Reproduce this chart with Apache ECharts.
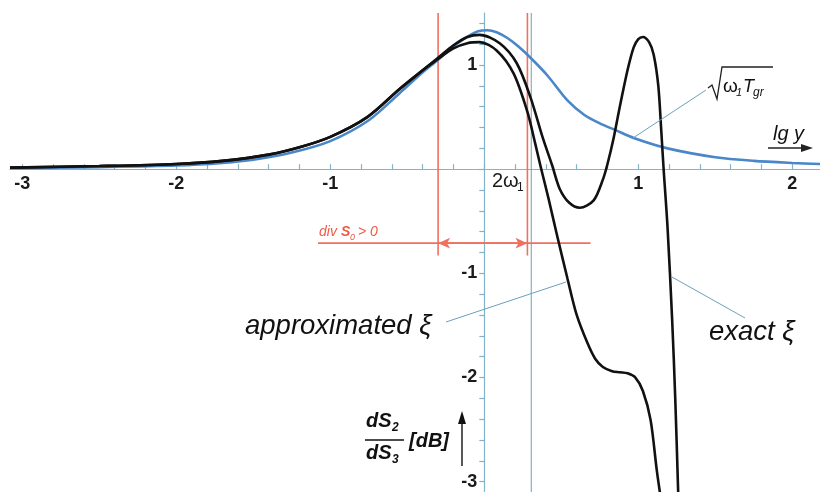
<!DOCTYPE html>
<html><head><meta charset="utf-8">
<script src="https://cdn.jsdelivr.net/npm/echarts@6/dist/echarts.min.js"></script>
<style>html,body{margin:0;padding:0;background:#fff}#c{width:820px;height:492px}</style>
</head><body><div id="c"></div>
<script>
// ---- data ----
const xTicks = [-3.0,-2.8,-2.6,-2.4,-2.2,-2.0,-1.8,-1.6,-1.4,-1.2,-1.0,-0.8,-0.6,-0.4,-0.2,0,0.2,0.4,0.6,0.8,1.0,1.2,1.4,1.6,1.8,2.0];
const xLabels = [-3,-2,-1,1,2];
const yTicks = [-3.0,-2.8,-2.6,-2.4,-2.2,-2.0,-1.8,-1.6,-1.4,-1.2,-1.0,-0.8,-0.6,-0.4,-0.2,0,0.2,0.4,0.6,0.8,1.0,1.2,1.4];
const yLabels = [-3,-2,-1,1];

const blueX = [-3.08,-2.5,-2.0,-1.7,-1.5,-1.25,-1.0,-0.75,-0.55,-0.4,-0.3,-0.2,-0.1,-0.04,0.02,0.08,0.15,0.22,0.3,0.41,0.54,0.65,0.75,0.86,0.97,1.19,1.5,1.75,2.0,2.18];
const blueY = [0.01,0.02,0.035,0.06,0.09,0.16,0.27,0.47,0.73,0.93,1.05,1.18,1.28,1.325,1.335,1.315,1.26,1.18,1.07,0.90,0.66,0.52,0.44,0.37,0.30,0.20,0.115,0.08,0.06,0.05];

const approxX = [-3.08,-2.5,-2.0,-1.7,-1.4,-1.2,-1.0,-0.76,-0.55,-0.4,-0.3,-0.2,-0.11,-0.03,0.08,0.19,0.28,0.33,0.37,0.42,0.47,0.54,0.60,0.67,0.72,0.77,0.83,0.88,0.93,0.98,1.03,1.08,1.12,1.145];
const approxY = [0.015,0.03,0.05,0.08,0.14,0.21,0.31,0.5,0.77,0.95,1.06,1.16,1.21,1.22,1.14,0.92,0.55,0.25,0.0,-0.3,-0.62,-1.05,-1.40,-1.67,-1.82,-1.90,-1.94,-1.95,-1.96,-2.0,-2.13,-2.41,-2.89,-3.15];

const exactX = [-3.08,-2.5,-2.0,-1.7,-1.4,-1.2,-1.0,-0.76,-0.55,-0.4,-0.3,-0.2,-0.11,-0.03,0.1,0.21,0.3,0.38,0.44,0.49,0.55,0.62,0.71,0.77,0.80,0.84,0.88,0.93,0.97,1.0,1.03,1.07,1.10,1.13,1.15,1.165,1.19,1.22,1.24,1.26];
const exactY = [0.015,0.03,0.05,0.08,0.14,0.21,0.31,0.5,0.77,0.95,1.07,1.19,1.27,1.29,1.21,1.02,0.69,0.30,0.04,-0.19,-0.32,-0.37,-0.30,-0.1,0.05,0.3,0.6,0.95,1.17,1.25,1.27,1.22,1.1,0.8,0.35,-0.01,-0.56,-1.45,-2.2,-3.15];

const redLineX = [-0.30, 0.28];
const redLineYRange = [1.5, -0.83];
const markerLineX = 0.305;
const markerLineYRange = [1.5, -3.1];
const divArrowY = -0.71;
const divArrowXRange = [-1.08, 0.69];

// ---- chart ----
const zip = (xs, ys) => xs.map((x, i) => [x, ys[i]]);
const FONT = '"Liberation Sans", Arial, Helvetica, sans-serif';
const axisCol = '#82b3c8';
const redCol = '#f0705f';

const X_MIN = -3.08, X_MAX = 2.18, Y_MIN = -3.1, Y_MAX = 1.5;
const GRID = {left: 10, top: 13, width: 810, height: 479};
// place the axes through the origin using the axis scale
const xAxisOffset = -GRID.height * (0 - Y_MIN) / (Y_MAX - Y_MIN);
const yAxisOffset = -GRID.width * (0 - X_MIN) / (X_MAX - X_MIN);

const chart = echarts.init(document.getElementById('c'), null, {renderer: 'canvas'});

const series = [];
redLineX.forEach(x => series.push({
  type: 'line', data: [[x, redLineYRange[0]], [x, redLineYRange[1]]], symbol: 'none',
  lineStyle: {color: redCol, width: 1.6}, silent: true, animation: false
}));
series.push({
  type: 'line', data: [[markerLineX, markerLineYRange[0]], [markerLineX, markerLineYRange[1]]], symbol: 'none',
  lineStyle: {color: '#6aa3bb', width: 1}, silent: true, animation: false
});
series.push({
  type: 'line', data: [[divArrowXRange[0], divArrowY], [divArrowXRange[1], divArrowY]], symbol: 'none',
  lineStyle: {color: redCol, width: 1.6}, silent: true, animation: false,
  markLine: {
    silent: true, animation: false, symbol: ['none', 'arrow'], symbolSize: [8, 12],
    label: {show: false}, lineStyle: {color: redCol, width: 1.6, type: 'solid'},
    data: [
      [{coord: [0, divArrowY]}, {coord: [redLineX[0], divArrowY]}],
      [{coord: [0, divArrowY]}, {coord: [redLineX[1], divArrowY]}]
    ]
  }
});
series.push({type: 'line', data: zip(blueX, blueY), symbol: 'none', smooth: 0.3,
  lineStyle: {color: '#4a87c8', width: 2.6}, animation: false});
series.push({type: 'line', data: zip(approxX, approxY), symbol: 'none', smooth: 0.3,
  lineStyle: {color: '#111', width: 2.6}, animation: false});
series.push({type: 'line', data: zip(exactX, exactY), symbol: 'none', smooth: 0.3,
  lineStyle: {color: '#111', width: 2.6}, animation: false});

chart.setOption({
  animation: false,
  backgroundColor: '#fff',
  grid: Object.assign({containLabel: false, outerBoundsMode: 'none'}, GRID),
  xAxis: {
    type: 'value', min: X_MIN, max: X_MAX, offset: xAxisOffset,
    axisLine: {onZero: false, lineStyle: {color: axisCol, width: 1.2}},
    axisTick: {inside: true, length: 5, customValues: xTicks, lineStyle: {color: axisCol, width: 1.2}},
    axisLabel: {customValues: xLabels, margin: 6, color: '#1a1a1a', fontSize: 18, fontWeight: 'bold', fontFamily: FONT},
    splitLine: {show: false}
  },
  yAxis: {
    type: 'value', min: Y_MIN, max: Y_MAX, offset: yAxisOffset,
    axisLine: {onZero: false, lineStyle: {color: axisCol, width: 1.2}},
    axisTick: {inside: false, length: 5, customValues: yTicks, lineStyle: {color: axisCol, width: 1.2}},
    axisLabel: {customValues: yLabels, margin: 7, color: '#1a1a1a', fontSize: 18, fontWeight: 'bold', fontFamily: FONT},
    splitLine: {show: false}
  },
  series: series
});

// ---- annotations ----
function T(x, y, text, font, fill, align) {
  return {type: 'text', x: x, y: y, z: 100, silent: true,
    style: {text: text, font: font, fill: fill || '#111', align: align || 'left', verticalAlign: 'middle'}};
}
function L(x1, y1, x2, y2, stroke, w) {
  return {type: 'line', z: 90, silent: true, shape: {x1, y1, x2, y2}, style: {stroke: stroke, lineWidth: w || 1}};
}
const it = s => 'italic ' + s + 'px ' + FONT;
const bi = s => 'italic bold ' + s + 'px ' + FONT;
const leader = '#6aa3bb';

const g = [
  // div S0 > 0
  T(319, 232, 'div', it(14), '#ef5a48'),
  T(341, 232, 'S', bi(14), '#ef5a48'),
  T(350, 237, '0', it(9), '#ef5a48'),
  T(358, 232, '> 0', it(14), '#ef5a48'),
  // approximated xi
  T(245, 326, 'approximated ξ', it(27.5)),
  L(446, 322, 566, 282, leader, 1),
  // exact xi
  T(709, 332, 'exact ξ', it(27.5)),
  L(672, 277, 745, 318, leader, 1),
  // sqrt(omega1 Tgr)
  {type: 'polyline', z: 90, silent: true, shape: {points: [[708, 88], [712, 85], [717, 99], [722, 67], [773, 67]]},
    style: {stroke: '#222', lineWidth: 1.3, fill: null}},
  T(723, 87, 'ω', '19px ' + FONT),
  T(736, 93, '1', it(11)),
  T(743, 87, 'T', it(18)),
  T(753, 93, 'gr', it(12)),
  L(706, 90, 633, 138, leader, 1),
  // lg y
  T(773, 134, 'lg y', it(20)),
  L(768, 148, 804, 148, '#222', 1.3),
  {type: 'polygon', z: 90, silent: true, shape: {points: [[813, 148], [801, 144], [801, 152]]}, style: {fill: '#222'}},
  // 2 omega 1
  T(492, 181, '2ω', '20px ' + FONT, '#1a1a1a'),
  T(517, 188, '1', '12px ' + FONT, '#1a1a1a'),
  // y label dS2/dS3 [dB]
  T(366, 421, 'dS', bi(20)),
  T(392, 428, '2', bi(12)),
  L(365, 440, 404, 440, '#111', 1.6),
  T(366, 453, 'dS', bi(20)),
  T(392, 460, '3', bi(12)),
  T(409, 441, '[dB]', bi(20)),
  L(462, 466, 462, 420, '#111', 1.4),
  {type: 'polygon', z: 90, silent: true, shape: {points: [[462, 411], [458, 424], [466, 424]]}, style: {fill: '#111'}}
];
chart.setOption({graphic: g});
</script>
</body></html>
